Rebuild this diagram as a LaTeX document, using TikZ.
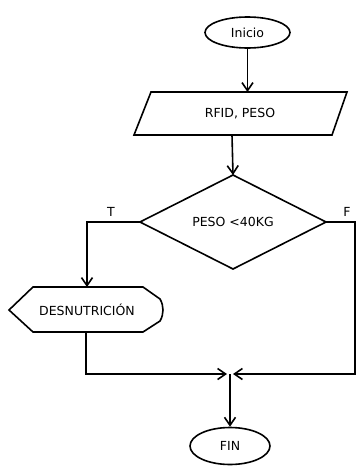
\documentclass[tikz,border=0pt]{standalone}
\usepackage{fontspec}
\setmainfont{DejaVu Sans}
\usetikzlibrary{arrows.meta,shapes.geometric}
\begin{document}
\begin{tikzpicture}[x=1pt,y=-1pt,line width=1.6pt,
  >={Straight Barb[length=8pt,width=11pt]},
  lbl/.style={font=\fontsize{12.5}{14}\selectfont},
  term/.style={draw,ellipse,inner sep=0pt,lbl}]
\useasboundingbox[fill=white] (0,0) rectangle (357,466);
% start
\node[term,minimum width=85pt,minimum height=31pt] (inicio) at (247.5,32.5) {Inicio};
% input parallelogram
\draw (151,92) -- (347,92) -- (332,135) -- (134,135) -- cycle;
\node[lbl] (io) at (240,113.5) {RFID, PESO};
\coordinate (ioT) at (247.5,92);
\coordinate (ioB) at (232,135);
% decision
\draw (233,175) -- (326,222) -- (233,269) -- (140,222) -- cycle;
\node[lbl] (dec) at (233,222) {PESO <40KG};
\coordinate (decT) at (233,175);
\coordinate (decW) at (140,222);
\coordinate (decE) at (326,222);
\node[lbl] (tl) at (111,212) {T};
\node[lbl] (fl) at (347,212) {F};
% display
\draw (9,310) -- (33,287) -- (143,287) -- (160,299) .. controls (164,306) and (164,314) .. (160,321) -- (143,332) -- (33,332) -- cycle;
\node[lbl] (desn) at (87,310) {DESNUTRICIÓN};
\coordinate (desnT) at (87,287);
\coordinate (desnB) at (86,332);
% end
\node[term,minimum width=80pt,minimum height=37pt] (fin) at (230,446) {FIN};
\coordinate (j) at (230,374);
% connectors
\draw[->] (inicio.south) -- (ioT);
\draw[->] (ioB) -- (decT);
\draw[->] (decW) -| (desnT);
\draw[->,shorten >=3pt] (decE) -- (355,222) |- (j);
\draw[->,shorten >=3pt] (desnB) |- (j);
\draw[->] (j) -- (fin.north);
\end{tikzpicture}
\end{document}
